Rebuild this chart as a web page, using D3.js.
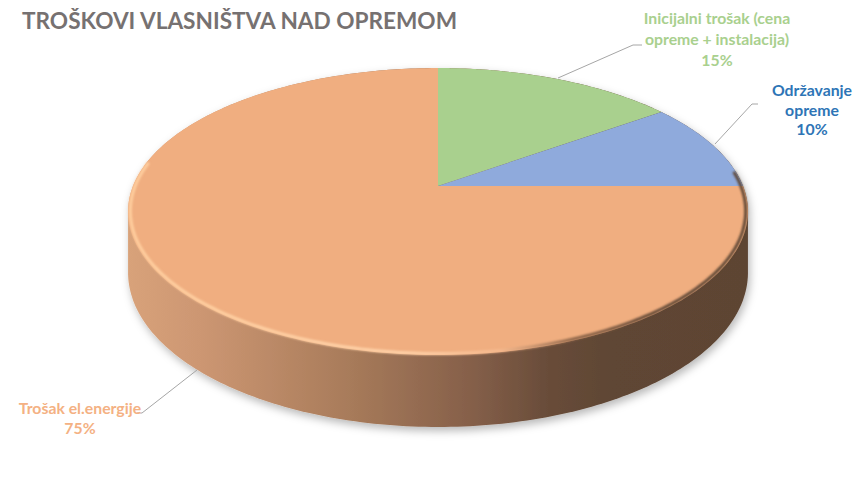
<!DOCTYPE html>
<html><head><meta charset="utf-8">
<script src="https://cdn.jsdelivr.net/npm/d3@7"></script>
<style>body{margin:0;background:#fff}svg{display:block}</style></head>
<body>
<svg id="c" width="867" height="479"></svg>
<script>
const title = "TROŠKOVI VLASNIŠTVA NAD OPREMOM";
const categories = ["Inicijalni trošak (cena opreme + instalacija)", "Održavanje opreme", "Trošak el.energije"];
const values = [15, 10, 75];
const labelLines = [["Inicijalni trošak (cena", "opreme + instalacija)"], ["Održavanje", "opreme"], ["Trošak el.energije"]];
const colors = ["#A9D08E", "#8FAADC", "#F0AE80"];
const labelColors = ["#A9D08E", "#2E75B6", "#F4B183"];

const svg = d3.select("#c");
const defs = svg.append("defs");

// perspective projection of the pie disc
const cx = 438, cy = 186, kx = 305, ay = 105.9, cp = -0.1777, depth = 59.2;
const proj = (a, r = 1) => {
  const u = r * Math.sin(a), v = -r * Math.cos(a);
  const w = 1 + cp * v;
  return [cx + kx * u / w, (ay * v + cy) / w];
};
const projB = (a) => {
  const v = -Math.cos(a), w = 1 + cp * v;
  const p = proj(a);
  return [p[0], p[1] + depth / w];
};

const pie = d3.pie().sort(null).value(d => d)(values);
const total = d3.sum(values);

// side
const full = d3.range(0, 361).map(d => d * Math.PI / 180);
const hull = d3.polygonHull(full.map(a => proj(a)).concat(full.map(a => projB(a))));

const sg = defs.append("linearGradient").attr("id", "side").attr("gradientUnits", "userSpaceOnUse")
  .attr("x1", 128).attr("x2", 748).attr("y1", 0).attr("y2", 0);
[[0, "#d8a27a"], [0.12, "#cc9672"], [0.35, "#a97c5b"], [0.55, "#86604a"], [0.68, "#684c39"], [0.78, "#5f4634"], [1, "#5d4433"]]
  .forEach(([o, c]) => sg.append("stop").attr("offset", o).attr("stop-color", c));

const sh = defs.append("filter").attr("id", "shadow").attr("x", -0.1).attr("y", -0.1).attr("width", 1.2).attr("height", 1.3);
sh.append("feDropShadow").attr("dx", 2).attr("dy", 4).attr("stdDeviation", 4).attr("flood-color", "#000").attr("flood-opacity", 0.28);

const line = d3.line();
svg.append("path").attr("d", line(hull) + "Z").attr("fill", "url(#side)").attr("filter", "url(#shadow)");

// top face wedges
const aScale = d3.scaleLinear().domain([0, 1]);
pie.forEach((d, i) => {
  aScale.range([d.startAngle, d.endAngle]);
  const pts = [[cx, cy]].concat(d3.range(0, 1.0001, 1 / 200).map(t => proj(aScale(t))));
  svg.append("path").attr("d", line(pts) + "Z").attr("fill", colors[i]);
});

// bevel highlight on the front edge
const bg = defs.append("linearGradient").attr("id", "bev").attr("gradientUnits", "userSpaceOnUse")
  .attr("x1", 128).attr("x2", 748).attr("y1", 0).attr("y2", 0);
[[0, "#ffcf9f"], [0.45, "#ffd3aa"], [0.6, "#f6b98e"], [0.72, "#8a6246"], [0.85, "#5f4634"], [1, "#5f4634"]]
  .forEach(([o, c]) => bg.append("stop").attr("offset", o).attr("stop-color", c));
const bl = defs.append("filter").attr("id", "blur");
bl.append("feGaussianBlur").attr("stdDeviation", 1.1);
const edge = d3.range(84, 281, 1).map(d => proj(d * Math.PI / 180, 0.993));
svg.append("path").attr("d", line(edge)).attr("fill", "none").attr("stroke", "url(#bev)")
  .attr("stroke-width", 3).attr("filter", "url(#blur)");

// title
svg.append("text").attr("x", 22).attr("y", 29).text(title)
  .attr("font-family", "Lato, 'Open Sans', sans-serif").attr("font-weight", "bold")
  .attr("font-size", 22.5).attr("fill", "#767171")
  .attr("textLength", 435).attr("lengthAdjust", "spacingAndGlyphs");

// leader lines
const leaders = [
  [[558, 78], [633, 45], [642, 45]],
  [[715, 144], [752, 104], [758, 104]],
  [[197, 370], [142, 413], [137, 413]]
];
leaders.forEach(l => svg.append("path").attr("d", line(l)).attr("fill", "none").attr("stroke", "#a6a6a6").attr("stroke-width", 1));

// labels
const labelPos = [[717, 24], [812, 96], [80, 414]];
const lh = 19.5;
pie.forEach((d, i) => {
  const t = svg.append("text").attr("text-anchor", "middle")
    .attr("font-family", "Lato, 'Open Sans', sans-serif").attr("font-weight", "bold")
    .attr("font-size", 15.8).attr("fill", labelColors[i]);
  const lines = labelLines[i].concat([Math.round(d.data / total * 100) + "%"]);
  lines.forEach((s, j) => t.append("tspan").attr("x", labelPos[i][0]).attr("y", labelPos[i][1] + j * (i === 0 ? 21 : lh)).text(s));
});
</script>
</body></html>
